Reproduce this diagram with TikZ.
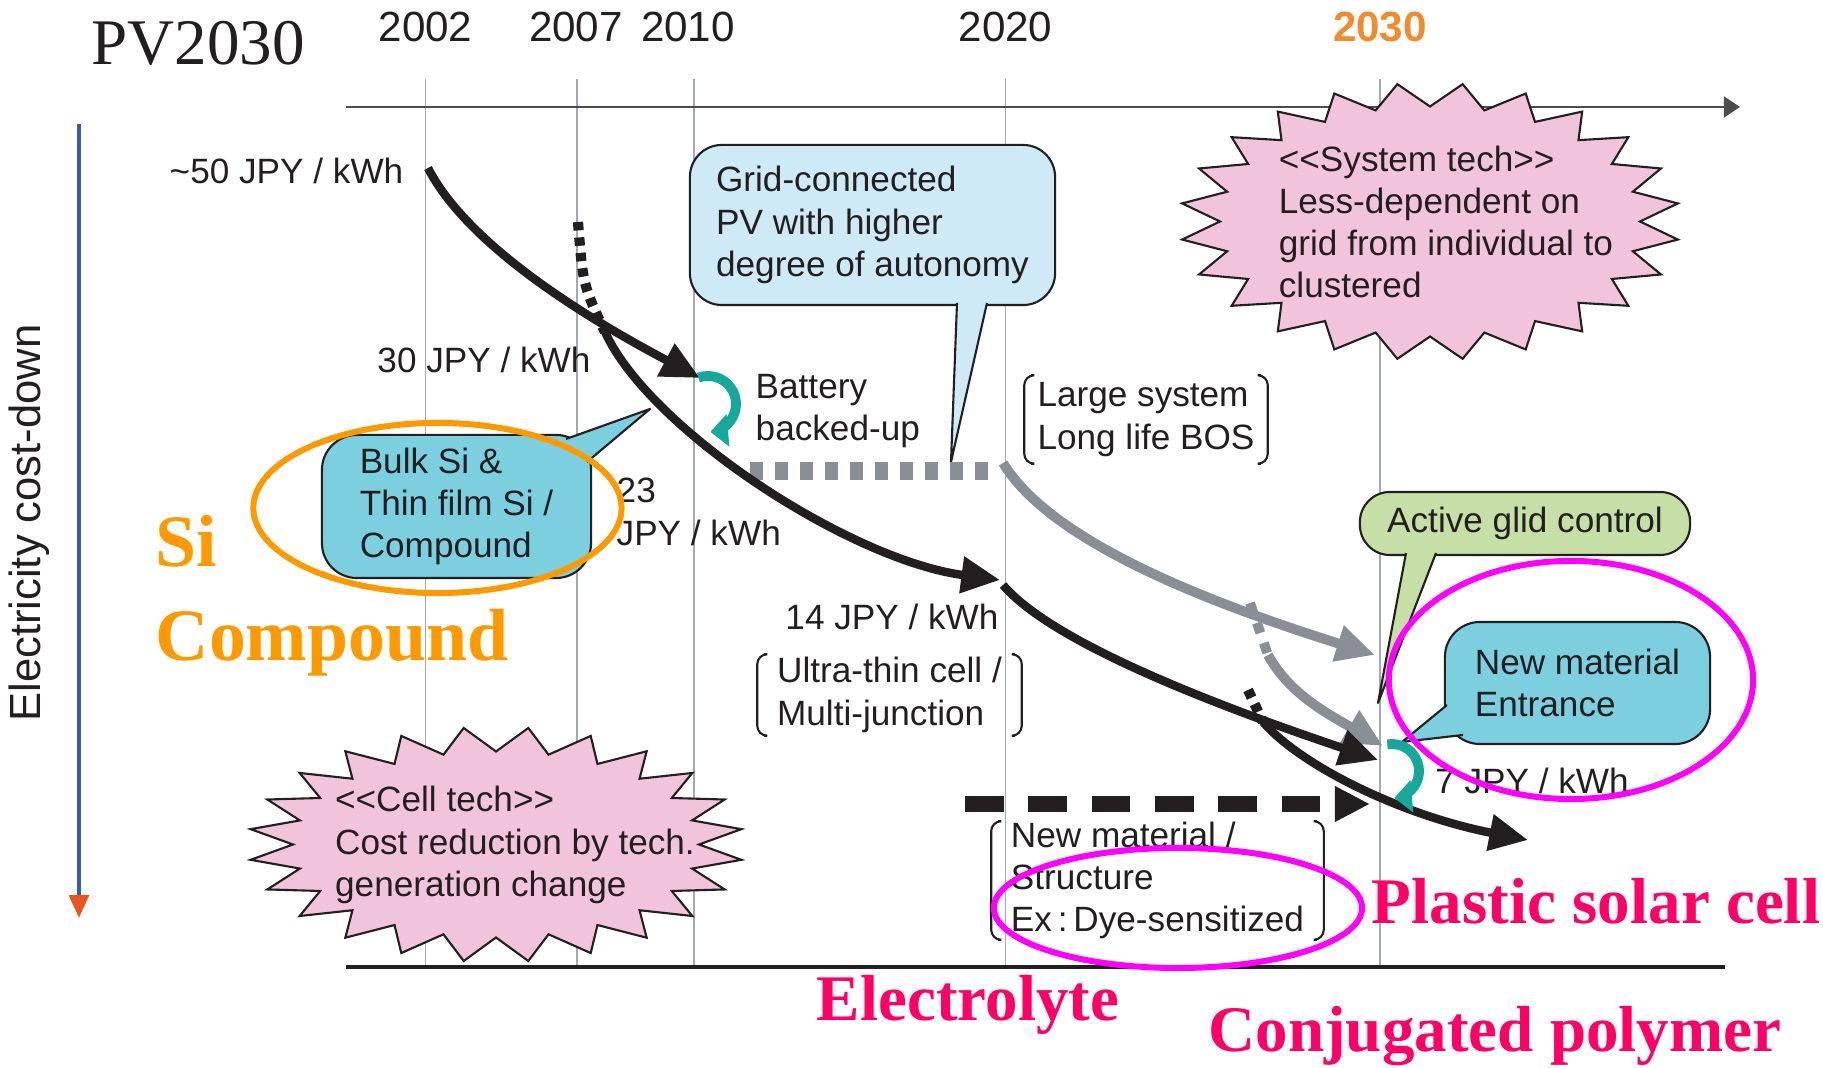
\documentclass[tikz,border=0pt]{standalone}
\usepackage{fontspec}
\setmainfont{Liberation Sans}
\newfontfamily\timesfont{Liberation Serif}
\usetikzlibrary{arrows.meta,calc,shapes.geometric}

\definecolor{gridgray}{HTML}{A4A9AE}
\definecolor{axisgray}{HTML}{4D4D4D}
\definecolor{inkdark}{HTML}{231F20}
\definecolor{skyblue}{HTML}{CDEAF6}
\definecolor{cellcyan}{HTML}{7CCFDF}
\definecolor{leafgreen}{HTML}{C5DFA6}
\definecolor{burstpink}{HTML}{F2C4DC}
\definecolor{cycleteal}{HTML}{16A89B}
\definecolor{trendgray}{HTML}{8A8F96}
\definecolor{siorange}{HTML}{FF9900}
\definecolor{yearorange}{HTML}{F28A2E}
\definecolor{ringmagenta}{HTML}{FF00FF}
\definecolor{polyred}{HTML}{FF0066}
\definecolor{costblue}{HTML}{3B5BA8}
\definecolor{tipred}{HTML}{E8551F}

\tikzset{
  gridline/.style={draw=gridgray, line width=0.5pt},
  year/.style={font=\fontsize{12}{14}\selectfont, inner sep=0pt},
  costtext/.style={font=\fontsize{10}{12}\selectfont, inner sep=0pt},
  bubble/.style={draw=inkdark, line width=0.6pt, align=left, font=\fontsize{10}{12}\selectfont, inner sep=0pt},
  bracketbox/.style={align=left, font=\fontsize{10}{12}\selectfont, inner sep=0pt},
  bracketline/.style={draw=inkdark, line width=0.6pt, rounded corners=0.1cm},
  tailline/.style={draw=inkdark, line width=0.6pt, line join=round},
  burstline/.style={fill=burstpink, draw=inkdark, line width=0.6pt},
  trend/.style={draw=inkdark, line width=2.4pt, -{Triangle[length=11pt,width=10pt]}},
  graytrend/.style={draw=trendgray, line width=2.8pt, -{Triangle[length=11pt,width=10pt]}},
  dotline/.style={draw=inkdark, line width=2.9pt, dash pattern=on 2.4pt off 2pt},
  graydash/.style={draw=trendgray, line width=5pt, dash pattern=on 3.7pt off 3.4pt},
  graydot/.style={draw=trendgray, line width=2.8pt, dash pattern=on 3pt off 3pt},
  blackdash/.style={draw=inkdark, line width=4.3pt, dash pattern=on 11pt off 7pt, -{Triangle[length=10pt,width=9.5pt]}},
  tealcycle/.style={draw=cycleteal, line width=2.8pt, -{Triangle[length=5pt,width=9pt]}},
  ring/.style={ellipse, line width=1.7pt, inner sep=0pt},
  topaxis/.style={draw=axisgray, line width=0.6pt, -{Triangle[length=4.6pt,width=6pt]}},
  baseaxis/.style={draw=inkdark, line width=1.2pt},
  costarrow/.style={draw=costblue, line width=1.3pt, -{Triangle[length=6.5pt,width=5.5pt,color=tipred]}},
  polylabel/.style={font=\timesfont\bfseries\fontsize{18.5}{22}\selectfont, text=polyred, inner sep=0pt},
  silabel/.style={font=\timesfont\bfseries\fontsize{21}{26.7}\selectfont, text=siorange, inner sep=0pt},
}

\newcommand\drawburst[5]{\filldraw[burstline] ($(#1)+(0:#4 and #5)$) \foreach \k in {0,...,23}{ -- ($(#1)+({15*\k+7.5}:#2 and #3)$) -- ($(#1)+({15*\k+15}:#4 and #5)$)} -- cycle;}
\newcommand\bracketpair[1]{\draw[bracketline] ([xshift=0.07cm]#1.north west) -- (#1.north west) -- (#1.south west) -- ([xshift=0.07cm]#1.south west);
  \draw[bracketline] ([xshift=-0.07cm]#1.north east) -- (#1.north east) -- (#1.south east) -- ([xshift=-0.07cm]#1.south east);}
\newcommand\bubbletail[4]{\fill[#1] (#2) -- (#3) -- (#4) -- cycle; \draw[tailline] (#2) -- (#3) -- (#4);}

\begin{document}
\begin{tikzpicture}[x=0.01cm,y=-0.01cm, every node/.append style={text=inkdark}]
\useasboundingbox (0,0) rectangle (1823,1068);

\draw[gridline] (425.5,79) -- (425.5,967);
\draw[gridline] (577,79) -- (577,967);
\draw[gridline] (694,79) -- (694,967);
\draw[gridline] (1005.5,79) -- (1005.5,967);
\draw[gridline] (1380,79) -- (1380,967);

\node[font=\timesfont\fontsize{18.5}{22}\selectfont, inner sep=0pt] (title) at (198,43) {PV2030};
\node[year] (y2002) at (425.5,27) {2002};
\node[year] (y2007) at (576,27) {2007};
\node[year] (y2010) at (688,27) {2010};
\node[year] (y2020) at (1005.5,27) {2020};
\node[year, text=yearorange, font=\fontsize{12}{14}\selectfont\bfseries] (y2030) at (1380,27) {2030};

\coordinate (axisL) at (346,107);
\coordinate (axisR) at (1740,107);
\draw[topaxis] (axisL) -- (axisR);
\coordinate (baseL) at (346,967);
\coordinate (baseR) at (1725,967);
\draw[baseaxis] (baseL) -- (baseR);

\coordinate (costtop) at (79,124);
\coordinate (costbot) at (79,918);
\draw[costarrow] (costtop) -- (costbot);
\node[rotate=90, font=\fontsize{12.4}{14}\selectfont, inner sep=0pt] (costlabel) at (29,523) {Electricity cost-down};

\coordinate (systechc) at (1430,221.5);
\drawburst{systechc}{250}{138.5}{210}{115}
\node[align=left, font=\fontsize{10}{12}\selectfont, inner sep=0pt] (systech) at (1446,222) {<{}<System tech>{}>\\Less-dependent on\\grid from individual to\\clustered};

\coordinate (celltechc) at (496,844.5);
\drawburst{celltechc}{247.5}{117.5}{203}{93}
\node[align=left, font=\fontsize{10}{12}\selectfont, inner sep=0pt] (celltech) at (515,845) {<{}<Cell tech>{}>\\Cost reduction by tech.\\generation change};

\node[bubble, fill=skyblue, rounded corners=0.32cm, minimum width=3.65cm, minimum height=1.6cm] (gridpv) at (872.5,225) {Grid-connected\\PV with higher\\degree of autonomy};
\bubbletail{skyblue}{957,303}{951,462}{987,303}

\node[bubble, fill=cellcyan, rounded corners=0.35cm, minimum width=2.69cm, minimum height=1.43cm] (bulksi) at (456.5,506.5) {Bulk Si \&\\Thin film Si /\\Compound};
\bubbletail{cellcyan}{566,439}{650,409}{587,462}

\node[bubble, fill=leafgreen, rounded corners=0.3cm, minimum width=3.3cm, minimum height=0.63cm, align=center] (activeglid) at (1525,523.5) {Active glid control};
\bubbletail{leafgreen}{1406,553}{1378,703}{1436,553}

\node[bubble, fill=cellcyan, rounded corners=0.35cm, minimum width=2.65cm, minimum height=1.22cm] (newmat) at (1577.5,683) {New material\\Entrance};
\bubbletail{cellcyan}{1447,705}{1402,742}{1463,735}

\node[bracketbox, minimum width=2.42cm, minimum height=0.87cm] (largesys) at (1146,419.5) {Large system\\Long life BOS};
\bracketpair{largesys}
\node[bracketbox, minimum width=2.63cm, minimum height=0.8cm] (ultrathin) at (889.5,695) {Ultra-thin cell /\\Multi-junction};
\bracketpair{ultrathin}
\node[bracketbox, minimum width=3.31cm, minimum height=1.17cm] (newstruct) at (1157.5,880.5) {New material /\\Structure\\Ex\,:\,Dye-sensitized};
\bracketpair{newstruct}

\node[costtext, anchor=east] (cost50) at (404,171) {\textasciitilde50 JPY / kWh};
\node[costtext] (cost30) at (484,360) {30 JPY / kWh};
\node[costtext, anchor=west, align=left] (cost23) at (616,512) {23\\JPY / kWh};
\node[costtext] (cost14) at (892,617) {14 JPY / kWh};
\node[costtext] (cost7) at (1532,781) {7 JPY / kWh};
\node[costtext, anchor=west, align=left] (battery) at (755,411) {Battery\\backed-up};

\coordinate (g2010) at (750,471);
\coordinate (g2020) at (992,471);
\draw[graydash] (g2010) -- (g2020);
\coordinate (g2020b) at (1003,463);
\coordinate (g2030) at (1375,655);
\draw[graytrend] (g2020b) .. controls (1050,540) and (1200,600) .. (g2030);
\coordinate (gsplit) at (1250,603);
\coordinate (gsplit2) at (1268,655);
\draw[graydot] (gsplit) -- (gsplit2);
\coordinate (g2030b) at (1383,746);
\draw[graytrend] (gsplit2) .. controls (1290,695) and (1330,715) .. (g2030b);

\coordinate (p50) at (428,168);
\coordinate (p2010) at (700,378);
\draw[trend] (p50) .. controls (470,250) and (600,325) .. (p2010);
\coordinate (p2007) at (578,222);
\coordinate (pcross) at (605,332);
\draw[dotline] (p2007) .. controls (583,285) .. (pcross);
\coordinate (p2020) at (1000,580);
\draw[trend] (pcross) .. controls (650,430) and (850,560) .. (p2020);
\coordinate (p2020b) at (1003,585);
\coordinate (p2030) at (1378,760);
\draw[trend] (p2020b) .. controls (1050,640) and (1200,700) .. (p2030);
\coordinate (pdash) at (1248,690);
\coordinate (pdash2) at (1263,722);
\draw[dotline] (pdash) -- (pdash2);
\coordinate (pend) at (1528,840);
\draw[trend] (pdash2) .. controls (1300,765) and (1400,815) .. (pend);

\coordinate (newline) at (965,804);
\coordinate (newline2) at (1370,804);
\draw[blackdash] (newline) -- (newline2);

\coordinate (bat2010) at (708,404);
\draw[tealcycle] (bat2010) ++(-110:28) arc[start angle=-110, end angle=85, radius=28];
\coordinate (bat2030) at (1392,771);
\draw[tealcycle] (bat2030) ++(-100:27) arc[start angle=-100, end angle=85, radius=27];

\node[ring, draw=siorange, minimum width=3.68cm, minimum height=1.7cm] (siring) at (437.5,508) {};
\node[ring, draw=ringmagenta, minimum width=3.64cm, minimum height=2.38cm] (newring) at (1571,680) {};
\node[ring, draw=ringmagenta, minimum width=3.68cm, minimum height=1.2cm] (dyering) at (1178,908) {};

\node[silabel, anchor=west, align=left] (silabel) at (155,596) {Si\\Compound};
\node[polylabel] (electrolyte) at (968,1005) {Electrolyte};
\node[polylabel] (plastic) at (1596,901) {Plastic solar cell};
\node[polylabel] (conjpoly) at (1495,1036) {Conjugated polymer};
\end{tikzpicture}
\end{document}
